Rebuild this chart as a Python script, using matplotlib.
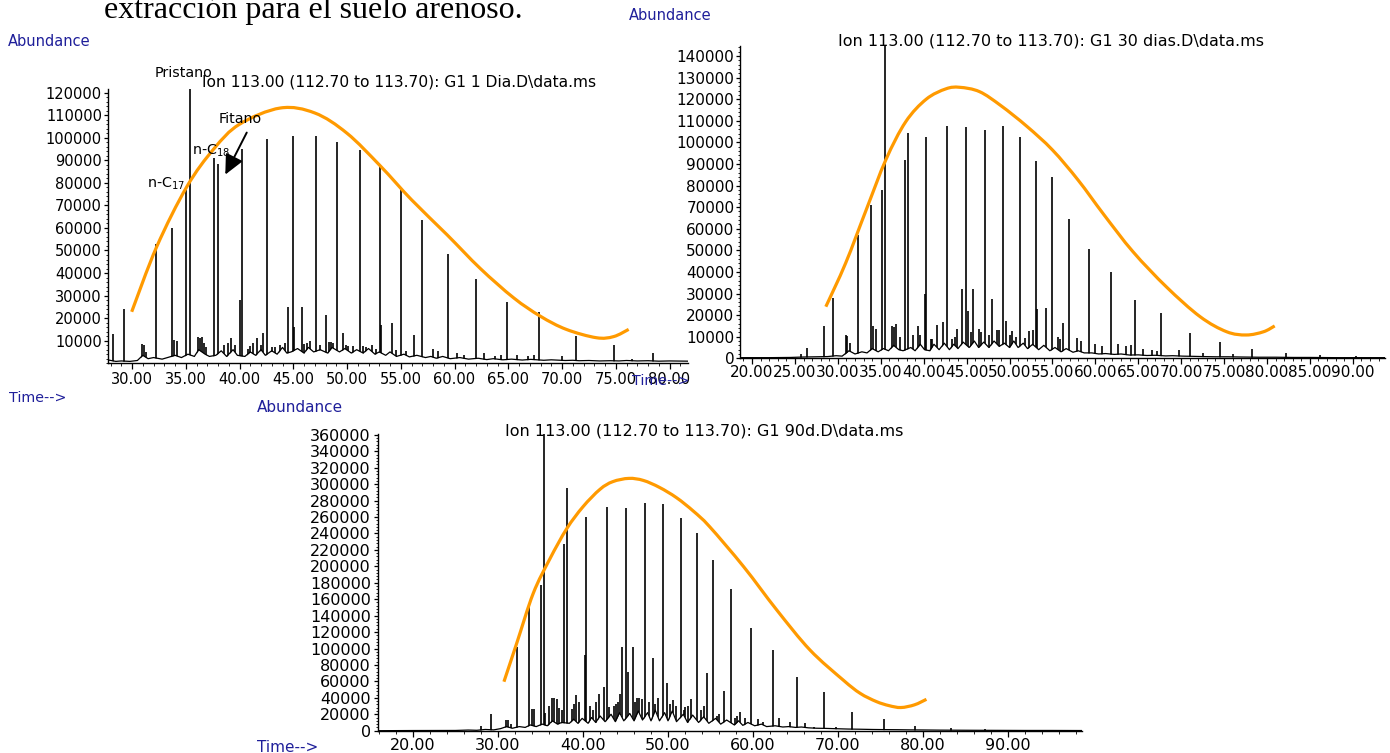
import numpy as np
import matplotlib.pyplot as plt
from matplotlib.path import Path
from matplotlib.patches import PathPatch
from matplotlib.ticker import MultipleLocator, FixedLocator, FuncFormatter

W, H = 1390, 753
BLUE = '#1f1f9a'
ORANGE = '#ff9a00'

# ---------------- panel 1: G1 1 Dia ----------------
p1_peak_t = [28.2, 29.3, 30.9, 31.1, 31.3, 32.2, 33.7, 33.9, 34.2, 35.0, 35.4, 36.1, 36.3,
             36.5, 36.7, 37.6, 38.0, 38.6, 38.9, 39.2, 40.0, 40.2, 40.8, 41.3, 41.6, 42.0,
             42.2, 42.6, 43.3, 43.8, 44.2, 44.5, 45.0, 45.1, 45.8, 46.3, 46.6, 47.1, 48.0,
             48.5, 48.7, 49.1, 49.6, 50.1, 50.6, 51.2, 51.8, 52.3, 53.1, 53.2, 54.2, 55.0,
             55.5, 56.2, 57.0, 58.0, 58.5, 59.35, 60.2, 60.9, 61.97, 62.7, 63.8, 64.3,
             64.84, 65.8, 66.8, 67.4, 67.9, 70.0, 71.27, 74.8, 76.5, 78.5]
p1_peak_h = [13000, 24000, 8500, 8000, 5000, 53000, 60000, 10500, 10000, 77000, 121500, 11500, 11000,
             11500, 9000, 91000, 88500, 8000, 9000, 11000, 28000, 95000, 6500, 9000, 11000, 8000,
             13500, 99500, 7000, 8000, 9000, 25000, 101000, 16000, 25000, 9000, 10000, 101000, 21500,
             9500, 9000, 98000, 13500, 7500, 7500, 94500, 7000, 8000, 87000, 17000, 18000, 77500,
             5500, 12500, 63500, 6500, 5500, 48500, 4500, 3500, 37500, 4500, 3000, 3500,
             27000, 3500, 3000, 3500, 22500, 3000, 12000, 8000, 2000, 4500]
p1_small_t = [36.9, 39.6, 41.0, 43.0, 46.0, 47.5, 48.3, 49.9, 51.5, 52.7, 54.6]
p1_small_h = [7000, 8000, 7500, 7000, 8500, 8000, 9500, 8000, 7500, 6500, 6000]
p1_base_t = [27.7, 28.5, 29.0, 29.8, 30.5, 31.0, 31.5, 32.0, 32.8, 33.3, 34.0, 34.6, 35.2, 35.8,
             36.2, 36.8, 37.2, 37.8, 38.3, 38.8, 39.4, 39.8, 40.5, 41.0, 41.5, 42.0, 42.4, 43.0,
             43.5, 44.0, 44.4, 44.8, 45.4, 46.0, 46.4, 46.9, 47.5, 48.2, 48.6, 49.3, 49.8, 50.4,
             50.9, 51.5, 52.0, 52.6, 53.0, 53.6, 54.0, 54.6, 55.3, 55.8, 56.5, 57.3, 57.8, 58.3,
             58.9, 59.6, 60.5, 61.3, 62.2, 63.0, 63.6, 64.5, 65.3, 66.3, 67.1, 68.3, 69.0, 70.3,
             71.0, 71.6, 72.5, 73.5, 74.5, 75.3, 76.0, 77.0, 78.0, 79.0, 80.0, 81.7]
p1_base_v = [1500, 800, 1000, 800, 1200, 3500, 2000, 2500, 1800, 2500, 3500, 2500, 4000, 3000,
             6000, 4000, 3000, 3500, 5500, 3000, 6000, 3500, 3000, 5000, 3500, 6000, 3500, 5500,
             4000, 7000, 4500, 5000, 6500, 4500, 7000, 5000, 6000, 4500, 7000, 5000, 6500, 4500,
             6000, 4500, 6500, 4000, 5000, 3500, 5000, 3000, 4000, 2800, 3500, 2500, 3000, 2200,
             3000, 2000, 2500, 1800, 2200, 1600, 2000, 1500, 1800, 1400, 1700, 1300, 1500, 1200,
             1300, 1100, 1200, 1000, 1100, 1000, 1200, 1000, 1100, 900, 1000, 900]
p1_curve_t = [29.97, 32.3, 35.1, 37.6, 40.0, 43.8, 47.0, 50.0, 53.1, 56.0, 59.3, 62.4, 65.5,
              68.0, 70.4, 73.2, 74.8, 76.2]
p1_curve_v = [22800, 51700, 78300, 95000, 106000, 113200, 111000, 102000, 87500, 72500, 57000,
              42000, 29000, 20800, 15000, 11300, 11800, 15000]

# ---------------- panel 2: G1 30 dias ----------------
p2_peak_t = [25.75, 26.4, 28.4, 29.4, 30.9, 31.1, 31.4, 32.4, 33.9, 34.1, 34.4, 35.2, 35.5, 36.3,
             36.6, 36.8, 37.85, 38.2, 38.8, 39.3, 39.6, 40.2, 40.3, 41.0, 41.6, 42.2, 42.7, 43.3,
             43.9, 44.47, 44.97, 45.2, 45.75, 46.4, 46.7, 47.15, 47.97, 48.5, 48.8, 49.25, 49.6,
             50.3, 50.7, 51.24, 51.8, 52.3, 53.1, 53.2, 54.3, 54.97, 55.6, 56.2, 56.99, 57.9,
             58.3, 59.3, 60.0, 60.8, 61.86, 62.6, 63.6, 64.1, 64.66, 65.5, 66.6, 67.2, 67.7, 69.8,
             71.0, 72.5, 74.5, 76.0, 78.3, 82.2, 86.2, 90.4]
p2_peak_h = [2000, 4600, 15000, 28000, 11000, 10500, 7000, 57000, 71000, 15000, 13500, 78000, 144600, 15000,
             14500, 16000, 92000, 104500, 11000, 15000, 11000, 30000, 102500, 9000, 15500, 17000, 107500, 9000,
             13500, 32000, 107000, 22000, 32000, 13500, 12000, 105500, 27500, 13000, 13000, 107500, 17500,
             12500, 10000, 102500, 9500, 12500, 91500, 23000, 23500, 84000, 10000, 16500, 64500, 9500,
             8000, 50500, 6500, 5500, 40000, 6500, 5500, 6000, 27000, 4500, 4000, 3500, 21000, 3700,
             11500, 2500, 7500, 1800, 4200, 2600, 1500, 1000]
p2_small_t = [37.3, 40.8, 43.6, 45.5, 47.6, 50.0, 52.7, 55.9]
p2_small_h = [10000, 9000, 10000, 12000, 11000, 11000, 13000, 9000]
p2_base_t = [18.6, 22.0, 24.5, 26.0, 27.5, 28.8, 29.8, 30.5, 31.3, 32.0, 32.8, 33.4, 34.0, 34.7,
             35.3, 35.9, 36.5, 37.1, 37.6, 38.5, 39.0, 39.6, 40.1, 40.7, 41.2, 41.8, 42.4, 43.0,
             43.5, 44.0, 44.6, 45.3, 45.9, 46.4, 47.0, 47.6, 48.2, 48.8, 49.4, 50.0, 50.5, 51.0,
             51.6, 52.1, 52.7, 53.4, 54.0, 54.7, 55.3, 56.0, 56.6, 57.4, 58.0, 58.7, 59.6, 60.4,
             61.2, 62.2, 63.0, 64.0, 65.0, 66.0, 67.0, 68.2, 69.0, 70.2, 71.5, 72.5, 74.0, 75.5,
             77.0, 79.0, 81.0, 83.0, 85.0, 88.0, 91.0, 93.8]
p2_base_v = [300, 300, 400, 600, 700, 800, 1200, 1000, 3500, 2000, 3000, 2500, 4500, 3000,
             4500, 3500, 6000, 4000, 3500, 5000, 3500, 6500, 4000, 3500, 6500, 4000, 7000, 4000,
             6500, 4500, 7500, 5000, 8000, 5000, 7500, 5000, 8000, 5500, 7000, 5000, 8000, 5000,
             7000, 4500, 6500, 4000, 6000, 3500, 5000, 3000, 4500, 2800, 3500, 2500, 2500, 2000,
             2200, 1800, 2000, 1500, 1600, 1300, 1400, 1100, 1200, 1000, 900, 800, 700, 700,
             600, 500, 500, 400, 400, 300, 300, 300]
p2_curve_t = [28.6, 30.9, 33.3, 35.6, 37.9, 40.3, 42.6, 44.2, 46.5, 49.0, 52.0, 55.0, 58.0,
              61.0, 64.4, 68.3, 72.2, 75.3, 77.6, 79.6, 80.9]
p2_curve_v = [23900, 44000, 68700, 92000, 109500, 120000, 124800, 125500, 123500, 117000, 107500,
              96500, 82500, 66500, 49300, 33000, 19300, 12300, 10800, 12300, 15000]

# ---------------- panel 3: G1 90d ----------------
p3_peak_t = [28.05, 29.2, 30.9, 31.2, 31.5, 32.2, 33.7, 33.95, 34.2, 35.06, 35.4, 35.5, 36.3, 36.6,
             36.9, 37.2, 37.8, 38.15, 38.7, 39.0, 39.2, 39.5, 40.2, 40.35, 41.2, 41.9, 42.5, 42.8,
             43.1, 43.6, 44.15, 44.6, 45.1, 45.3, 45.9, 46.3, 46.6, 47.33, 48.2, 48.8, 49.4, 49.85,
             50.2, 50.6, 51.5, 52.0, 52.7, 53.4, 54.55, 55.3, 56.0, 56.6, 57.4, 58.1, 58.5, 59.0,
             59.8, 60.6, 61.2, 62.4, 63.1, 64.3, 65.2, 66.1, 67.2, 68.35, 69.8, 71.7, 75.4, 79.1,
             83.3, 87.3]
p3_peak_h = [6000, 20000, 13000, 12500, 8000, 102000, 155000, 27000, 26000, 177000, 361000, 22000, 40000, 39500,
             38000, 28000, 227000, 295000, 27000, 33000, 43000, 35000, 92000, 259500, 25000, 44500, 53500, 272500,
             29000, 30000, 35000, 102000, 270500, 72000, 101500, 40000, 40000, 277500, 88000, 40000, 276000, 58000,
             33000, 37000, 258500, 29000, 38000, 240000, 70000, 207500, 20000, 48500, 172500, 18000, 23000, 16000,
             125000, 14500, 10000, 98000, 16000, 10000, 65000, 9000, 5000, 47000, 4000, 22500, 14500, 6000,
             3500, 1800]
p3_small_t = [36.0, 37.5, 40.8, 41.5, 43.9, 44.4, 46.1, 46.9, 47.8, 48.5, 50.9, 51.9, 52.3, 53.9,
              54.2, 55.8, 57.9]
p3_small_h = [30000, 25000, 30000, 35000, 32000, 45000, 35000, 38000, 35000, 33000, 30000, 25000, 30000,
              25000, 30000, 18000, 15000]
p3_base_t = [15.9, 20.0, 25.0, 26.5, 27.5, 28.5, 29.5, 30.3, 31.0, 31.7, 32.5, 33.2, 33.8, 34.5,
             35.2, 35.8, 36.4, 37.0, 37.5, 38.4, 38.9, 39.4, 39.9, 40.6, 41.0, 41.5, 42.0, 42.6,
             43.3, 43.8, 44.3, 44.8, 45.5, 46.0, 46.5, 47.0, 47.6, 48.0, 48.5, 49.0, 49.6, 50.0,
             50.5, 51.0, 51.8, 52.3, 52.9, 53.6, 54.2, 54.8, 55.6, 56.2, 56.9, 57.8, 58.3, 58.8,
             59.4, 60.2, 61.0, 61.6, 62.6, 63.5, 64.2, 65.0, 65.7, 66.5, 67.5, 68.6, 69.5, 70.5,
             71.2, 72.5, 74.0, 75.6, 77.0, 78.5, 80.0, 82.0, 84.0, 86.0, 89.0, 92.0, 95.0, 98.7]
p3_base_v = [0, 200, 300, 800, 500, 1500, 1000, 2500, 5000, 3000, 5000, 4000, 7000, 5000,
             8000, 6000, 12000, 8000, 10000, 9000, 14000, 9000, 15000, 9000, 16000, 10000, 18000, 11000,
             20000, 11000, 22000, 12000, 21000, 12000, 24000, 13000, 22000, 12000, 25000, 12000, 22000, 12000,
             24000, 11000, 20000, 10000, 19000, 10000, 17000, 9000, 15000, 8000, 13000, 7000, 12000, 6500,
             10000, 6000, 8000, 5000, 6000, 4500, 5000, 4000, 4500, 3500, 3000, 2800, 2500, 2200,
             2000, 1800, 1500, 1300, 1200, 1000, 900, 700, 600, 500, 400, 300, 300, 200]
p3_curve_t = [30.7, 32.2, 34.15, 36.1, 38.1, 40.0, 42.0, 43.5, 45.4, 47.1, 49.0, 51.0, 53.0,
              54.9, 58.9, 62.8, 66.7, 70.6, 72.6, 74.5, 76.0, 77.4, 79.0, 80.4]
p3_curve_v = [59600, 106300, 167200, 209000, 246000, 272500, 293700, 303000, 307000, 304500,
              296000, 283500, 267000, 248200, 199500, 146800, 98200, 61700, 45500, 35500, 30500,
              28200, 31500, 38200]

fig = plt.figure(figsize=(W / 100, H / 100), dpi=100)


def fx(x):
    return x / W


def fy(y):
    return 1 - y / H


def rect(x0, y_top, x1, y_bot):
    return [fx(x0), fy(y_bot), (x1 - x0) / W, (y_bot - y_top) / H]


def smooth_path(xs, ys):
    # smooth stroke through the read points (cubic Bezier segments)
    pts = np.column_stack([xs, ys]).astype(float)
    verts = [pts[0]]
    codes = [Path.MOVETO]
    n = len(pts)
    for i in range(n - 1):
        p0 = pts[i - 1] if i > 0 else pts[i]
        p1 = pts[i]
        p2 = pts[i + 1]
        p3 = pts[i + 2] if i + 2 < n else pts[i + 1]
        verts += [p1 + (p2 - p0) / 6, p2 - (p3 - p1) / 6, p2]
        codes += [Path.CURVE4] * 3
    return Path(verts, codes)


def chromatogram(r, xlim, ylim, peak_t, peak_h, base_t, base_v, curve_t, curve_v,
                 yticks, yminor, xmajor, xminor, fs, xpad, ypad):
    ax = fig.add_axes(r)
    ax.vlines(peak_t, 0, peak_h, colors='black', lw=1.2, zorder=1)
    ax.fill_between(base_t, 0, base_v, color='white', lw=0, zorder=2)
    ax.plot(base_t, base_v, color='black', lw=0.9, zorder=3)
    ax.add_patch(PathPatch(smooth_path(curve_t, curve_v), facecolor='none',
                           edgecolor=ORANGE, lw=2.3, zorder=4))
    ax.set_xlim(xlim)
    ax.set_ylim(ylim)
    for s in ['top', 'right']:
        ax.spines[s].set_visible(False)
    for s in ['left', 'bottom']:
        ax.spines[s].set_linewidth(1.0)
    ax.yaxis.set_major_locator(FixedLocator(yticks))
    ax.yaxis.set_minor_locator(MultipleLocator(yminor))
    ax.xaxis.set_major_locator(MultipleLocator(xmajor))
    ax.xaxis.set_minor_locator(MultipleLocator(xminor))
    ax.xaxis.set_major_formatter(FuncFormatter(lambda v, p: f'{v:.2f}'))
    ax.yaxis.set_major_formatter(FuncFormatter(lambda v, p: f'{int(round(v))}'))
    ax.tick_params(axis='y', which='major', direction='out', length=3, width=0.9,
                   pad=ypad, labelsize=fs)
    ax.tick_params(axis='y', which='minor', direction='out', length=1.5, width=0.6)
    ax.tick_params(axis='x', which='major', direction='out', length=4, width=0.9,
                   pad=xpad, labelsize=fs)
    ax.tick_params(axis='x', which='minor', direction='out', length=2, width=0.6)
    return ax


# panel 1
ax1 = chromatogram(rect(107.5, 89.3, 688, 363.2), (27.72, 81.72), (0, 121500),
                   p1_peak_t + p1_small_t, p1_peak_h + p1_small_h, p1_base_t, p1_base_v,
                   p1_curve_t, p1_curve_v,
                   list(range(10000, 120001, 10000)), 2000, 5, 1, 10.5, 2, 1)
# panel 2
ax2 = chromatogram(rect(740, 46, 1385, 358.3), (18.6, 93.75), (0, 144630),
                   p2_peak_t + p2_small_t, p2_peak_h + p2_small_h, p2_base_t, p2_base_v,
                   p2_curve_t, p2_curve_v,
                   list(range(0, 140001, 10000)), 2000, 5, 1, 11, 1, 1)
# panel 3
ax3 = chromatogram(rect(377.7, 434, 1082, 730.7), (15.85, 98.7), (0, 361000),
                   p3_peak_t + p3_small_t, p3_peak_h + p3_small_h, p3_base_t, p3_base_v,
                   p3_curve_t, p3_curve_v,
                   list(range(0, 360001, 20000)), 4000, 10, 2, 11.5, 1, 2)

# heading cut at the top of the page
fig.text(fx(104), fy(18), 'extracción para el suelo arenoso.', family='Liberation Serif',
         fontsize=23, ha='left', va='baseline')

# panel titles
fig.text(fx(202), fy(82), r'Ion 113.00 (112.70 to 113.70): G1 1 Dia.D\data.ms',
         fontsize=11.2, ha='left', va='center')
fig.text(fx(838), fy(41), r'Ion 113.00 (112.70 to 113.70): G1 30 dias.D\data.ms',
         fontsize=11.5, ha='left', va='center')
fig.text(fx(505), fy(431), r'Ion 113.00 (112.70 to 113.70): G1 90d.D\data.ms',
         fontsize=11.5, ha='left', va='center')

# axis captions
fig.text(fx(8), fy(41), 'Abundance', color=BLUE, fontsize=10.5, ha='left', va='center')
fig.text(fx(629), fy(15), 'Abundance', color=BLUE, fontsize=10.5, ha='left', va='center')
fig.text(fx(257), fy(408), 'Abundance', color=BLUE, fontsize=11, ha='left', va='center')
fig.text(fx(9), fy(398), 'Time-->', color=BLUE, fontsize=10.3, ha='left', va='center')
fig.text(fx(632), fy(381), 'Time-->', color=BLUE, fontsize=10.3, ha='left', va='center', zorder=0)
fig.text(fx(257), fy(748), 'Time-->', color=BLUE, fontsize=11, ha='left', va='center')

# compound labels on panel 1
fig.text(fx(155), fy(77), 'Pristano', fontsize=10.3, ha='left', va='baseline')
fig.text(fx(219), fy(123), 'Fitano', fontsize=10.3, ha='left', va='baseline')
fig.text(fx(192), fy(155), r'n-C$_{\mathregular{18}}$', fontsize=10.3, ha='left', va='baseline')
fig.text(fx(147), fy(188), r'n-C$_{\mathregular{17}}$', fontsize=10.3, ha='left', va='baseline')
ax1.annotate('', xy=(38.56, 82570), xytext=(40.79, 103400),
             arrowprops=dict(arrowstyle='-|>,head_length=0.8,head_width=0.38',
                             mutation_scale=15, lw=1.4, color='black'))

fig.savefig('out.png', dpi=100)
